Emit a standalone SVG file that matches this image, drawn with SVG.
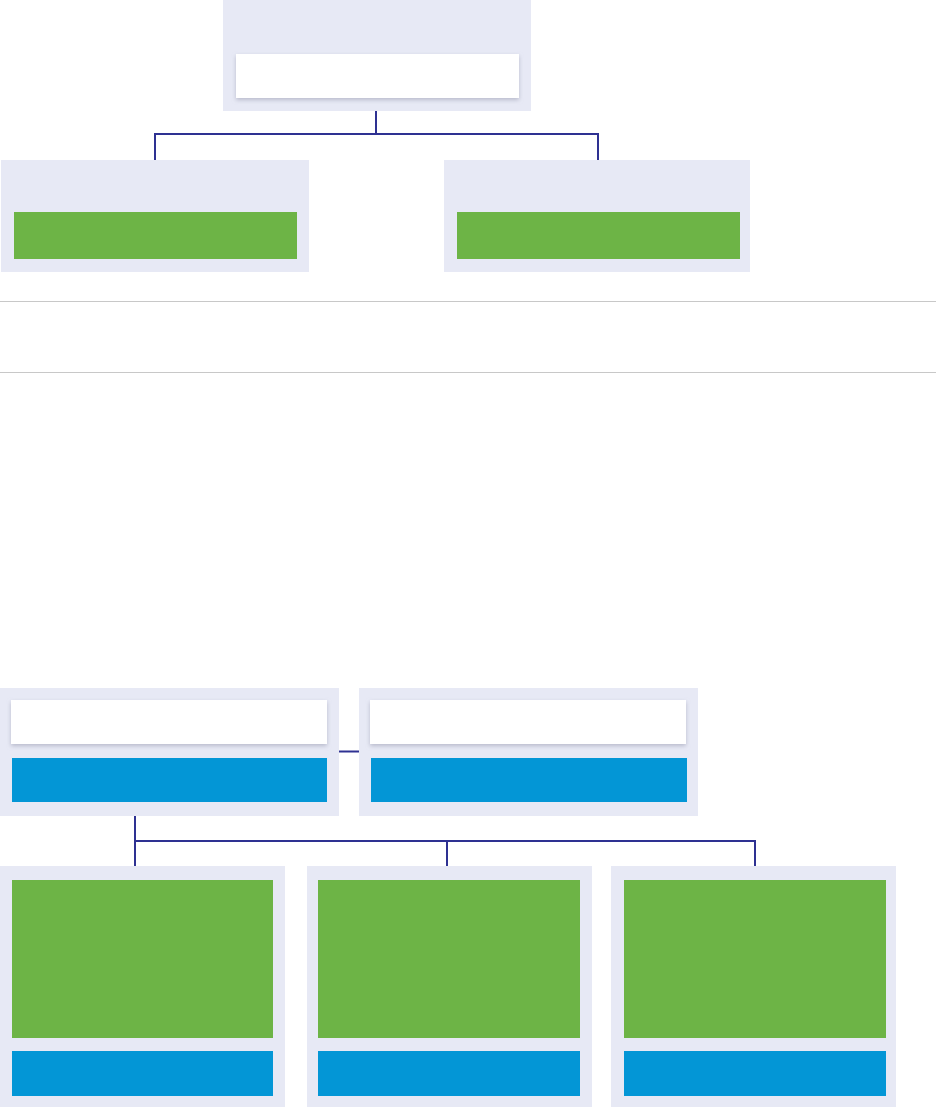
<svg xmlns="http://www.w3.org/2000/svg" width="936" height="1107" viewBox="0 0 936 1107">
<defs>
<filter id="sh" x="-5%" y="-20%" width="110%" height="160%">
<feDropShadow dx="0" dy="2" stdDeviation="2" flood-color="#9a9cb0" flood-opacity="0.6"/>
</filter>
<style>
.box{fill:#e7e9f5}
.white{fill:#ffffff;filter:url(#sh)}
.green{fill:#6db446}
.blue{fill:#0396d6}
.conn{fill:none;stroke:#2e3192;stroke-width:2}
.rule{stroke:#c8c8c8;stroke-width:1}
</style>
</defs>
<rect width="936" height="1107" fill="#ffffff"/>
<g id="rules">
<line class="rule" x1="0" y1="301.5" x2="936" y2="301.5"/>
<line class="rule" x1="0" y1="372.5" x2="936" y2="372.5"/>
</g>
<g id="connectors">
<path class="conn" d="M376 111 V134 M155 134 H598 M155 133 V160 M598 133 V160"/>
<path class="conn" d="M339 751.5 H359"/>
<path class="conn" d="M135 816 V866 M135 841 H755 M447 840 V866 M755 840 V866"/>
</g>
<g id="top">
<rect class="box" x="223" y="0" width="308" height="111"/>
<rect class="white" x="236" y="54" width="283" height="44"/>
</g>
<g id="mid-left">
<rect class="box" x="1" y="160" width="308" height="112"/>
<rect class="green" x="14" y="212" width="283" height="47"/>
</g>
<g id="mid-right">
<rect class="box" x="444" y="160" width="306" height="112"/>
<rect class="green" x="457" y="212" width="283" height="47"/>
</g>
<g id="low-left">
<rect class="box" x="0" y="688" width="339" height="128"/>
<rect class="white" x="11" y="700" width="316" height="44"/>
<rect class="blue" x="12" y="758" width="315" height="44"/>
</g>
<g id="low-right">
<rect class="box" x="359" y="688" width="339" height="128"/>
<rect class="white" x="370" y="700" width="316" height="44"/>
<rect class="blue" x="371" y="758" width="316" height="44"/>
</g>
<g id="bottom-1">
<rect class="box" x="0" y="866" width="285" height="241"/>
<rect class="green" x="12" y="880" width="261" height="158"/>
<rect class="blue" x="12" y="1051" width="261" height="45"/>
</g>
<g id="bottom-2">
<rect class="box" x="307" y="866" width="285" height="241"/>
<rect class="green" x="318" y="880" width="262" height="158"/>
<rect class="blue" x="318" y="1051" width="262" height="45"/>
</g>
<g id="bottom-3">
<rect class="box" x="611" y="866" width="285" height="241"/>
<rect class="green" x="624" y="880" width="262" height="158"/>
<rect class="blue" x="624" y="1051" width="262" height="45"/>
</g>
</svg>
